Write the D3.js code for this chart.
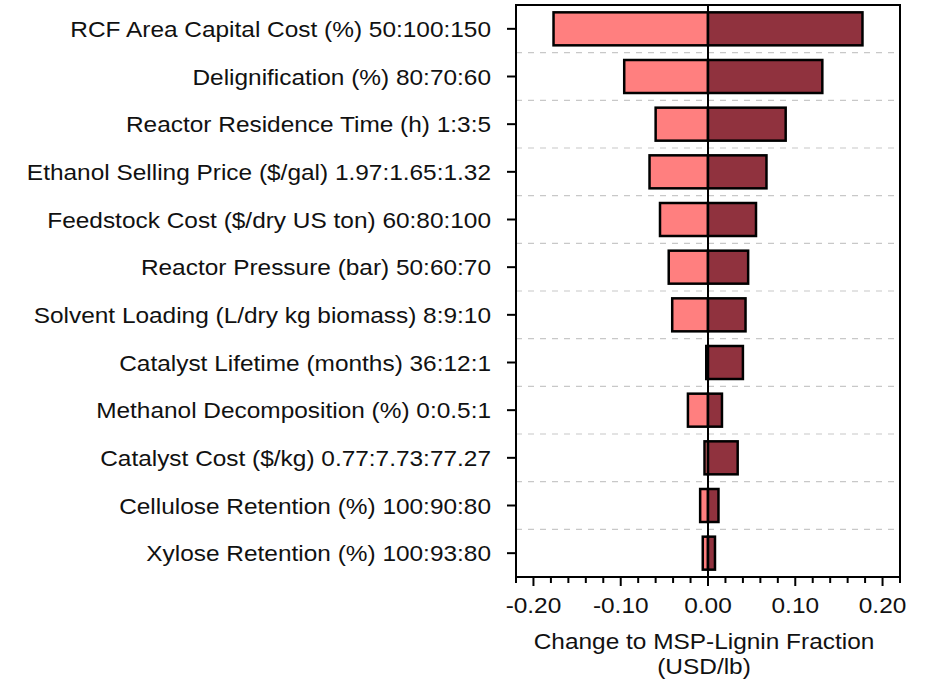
<!DOCTYPE html>
<html>
<head>
<meta charset="utf-8">
<script src="https://cdn.jsdelivr.net/npm/d3@7"></script>
<style>
  body { margin: 0; background: #fff; }
  svg text { font-family: "Liberation Sans", Arial, sans-serif; fill: #111; }
</style>
</head>
<body>
<div id="chart"></div>
<script>
// parameters, top to bottom
var categories = [
  "RCF Area Capital Cost (%) 50:100:150",
  "Delignification (%) 80:70:60",
  "Reactor Residence Time (h) 1:3:5",
  "Ethanol Selling Price ($/gal) 1.97:1.65:1.32",
  "Feedstock Cost ($/dry US ton) 60:80:100",
  "Reactor Pressure (bar) 50:60:70",
  "Solvent Loading (L/dry kg biomass) 8:9:10",
  "Catalyst Lifetime (months) 36:12:1",
  "Methanol Decomposition (%) 0:0.5:1",
  "Catalyst Cost ($/kg) 0.77:7.73:77.27",
  "Cellulose Retention (%) 100:90:80",
  "Xylose Retention (%) 100:93:80"
]
var lowValues  = [-0.177, -0.096, -0.060, -0.067, -0.055, -0.045, -0.041, -0.002, -0.023, -0.004, -0.009, -0.006]
var highValues = [ 0.177,  0.131,  0.089,  0.067,  0.055,  0.046,  0.043,  0.040,  0.016,  0.034,  0.012,  0.008]
var majorTicks = [-0.20, -0.10, 0.00, 0.10, 0.20]
var xTitle = ["Change to MSP-Lignin Fraction", "(USD/lb)"]

var width = 930, height = 682
var margin = {top: 5, left: 516, right: 30, bottom: 105}
var plotW = width - margin.left - margin.right
var plotH = height - margin.top - margin.bottom
var stretch = 1.11 // the original text is a bit wider than Arial

var svg = d3.select("#chart").append("svg")
  .attr("width", width)
  .attr("height", height)

var g = svg.append("g").attr("transform", "translate(" + margin.left + "," + margin.top + ")")

var x = d3.scaleLinear().domain([-0.22, 0.22]).range([0, plotW])
var rowH = plotH / categories.length
var barH = 33

function addText(tx, ty, str, anchor) {
  return g.append("text")
    .attr("transform", "translate(" + tx + "," + ty + ") scale(" + stretch + ",1)")
    .attr("text-anchor", anchor)
    .style("font-size", "22px")
    .text(str)
}

// dashed separators between rows
for (var i = 1; i < categories.length; i++) {
  g.append("line")
    .attr("x1", 0).attr("x2", plotW)
    .attr("y1", i * rowH).attr("y2", i * rowH)
    .attr("stroke", "#c8c8c8")
    .attr("stroke-width", 1.2)
    .attr("stroke-dasharray", "6,6")
}

var rows = categories.map(function(c, i) { return {name: c, lo: lowValues[i], hi: highValues[i]} })

// low side (pink)
g.selectAll(".lo").data(rows).enter().append("rect")
  .attr("class", "lo")
  .attr("x", function(d) { return x(d.lo) })
  .attr("y", function(d, i) { return i * rowH + rowH / 2 - barH / 2 })
  .attr("width", function(d) { return x(0) - x(d.lo) })
  .attr("height", barH)
  .attr("fill", "#ff7f7f")
  .attr("stroke", "#000")
  .attr("stroke-width", 2.5)

// high side (dark red)
g.selectAll(".hi").data(rows).enter().append("rect")
  .attr("class", "hi")
  .attr("x", x(0))
  .attr("y", function(d, i) { return i * rowH + rowH / 2 - barH / 2 })
  .attr("width", function(d) { return x(d.hi) - x(0) })
  .attr("height", barH)
  .attr("fill", "#90323e")
  .attr("stroke", "#000")
  .attr("stroke-width", 2.5)

// zero line
g.append("line")
  .attr("x1", x(0)).attr("x2", x(0))
  .attr("y1", 0).attr("y2", plotH)
  .attr("stroke", "#000").attr("stroke-width", 2)

// frame
g.append("rect")
  .attr("width", plotW).attr("height", plotH)
  .attr("fill", "none").attr("stroke", "#000").attr("stroke-width", 2)

// y ticks + labels
rows.forEach(function(d, i) {
  var cy = i * rowH + rowH / 2
  g.append("line")
    .attr("x1", -9).attr("x2", 0).attr("y1", cy).attr("y2", cy)
    .attr("stroke", "#000").attr("stroke-width", 2)
  addText(-25, cy + 8, d.name, "end")
})

// x ticks
var minorTicks = d3.range(-11, 12).map(function(k) { return k * 0.02 })
minorTicks.forEach(function(t) {
  var isMajor = majorTicks.some(function(m) { return Math.abs(m - t) < 1e-9 })
  g.append("line")
    .attr("x1", x(t)).attr("x2", x(t))
    .attr("y1", plotH).attr("y2", plotH + (isMajor ? 9 : 6))
    .attr("stroke", "#000").attr("stroke-width", 2)
})
majorTicks.forEach(function(t) {
  addText(x(t), plotH + 36, d3.format(".2f")(t).replace("−", "-"), "middle")
})

// axis title
xTitle.forEach(function(t, i) {
  addText(x(0) - 4, plotH + 72 + i * 25, t, "middle")
})
</script>
</body>
</html>
